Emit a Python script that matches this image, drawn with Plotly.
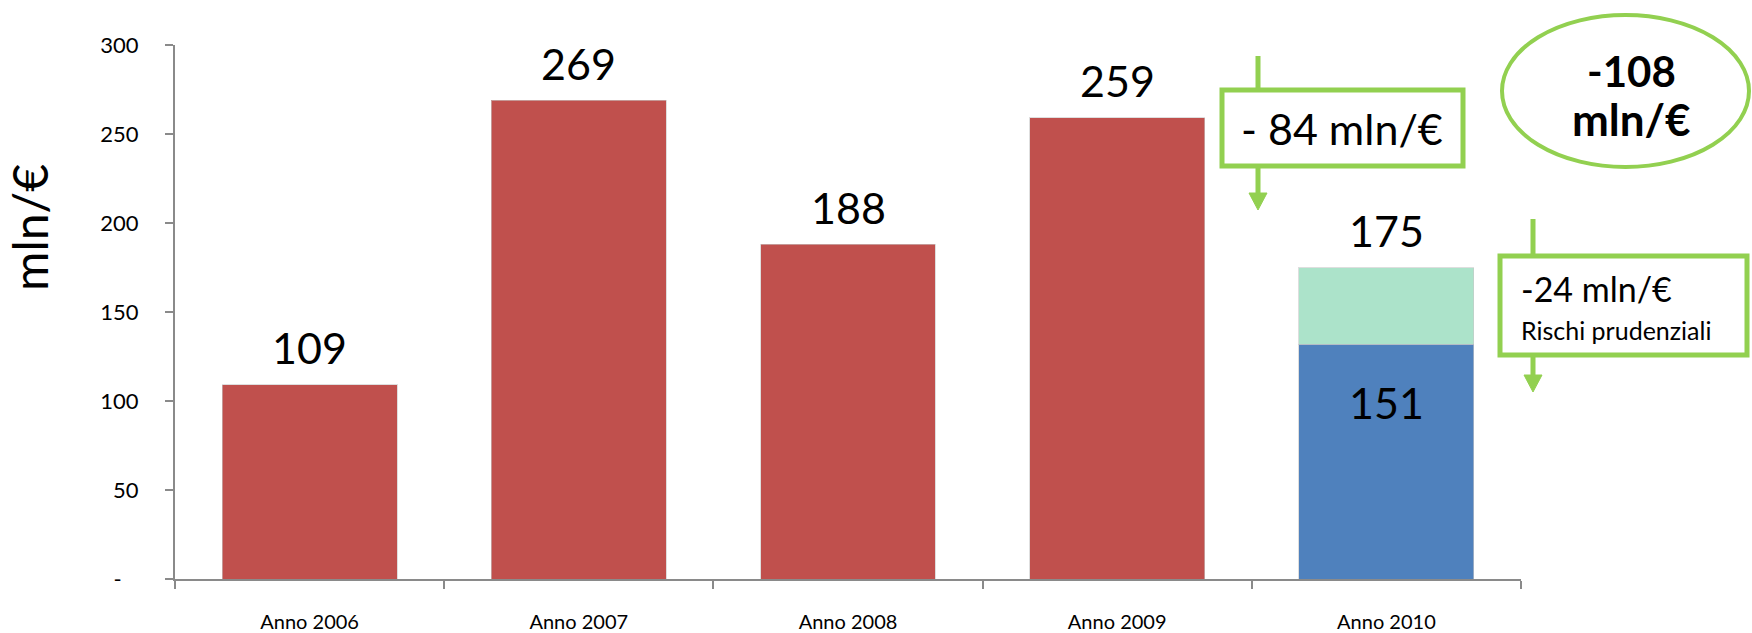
import plotly.graph_objects as go

# ---------------- data ----------------
categories = ["Anno 2006", "Anno 2007", "Anno 2008", "Anno 2009", "Anno 2010"]
red_values = [109, 269, 188, 259, None]          # annual totals 2006-2009
blue_2010 = [None, None, None, None, 132]        # 2010 base segment (as drawn)
mint_2010 = [None, None, None, None, 43]         # 2010 "rischi prudenziali" segment (as drawn)
top_labels = ["109", "269", "188", "259", "175"]
top_values = [109, 269, 188, 259, 175]
inner_label_2010 = "151"
y_tick_vals = [0, 50, 100, 150, 200, 250, 300]
y_tick_text = ["-\u00a0\u00a0\u00a0", "50", "100", "150", "200", "250", "300"]

# ---------------- style ----------------
FONT = "Lato"
RED = "#C0504D"
BLUE = "#4F81BD"
MINT = "#ACE3CA"
GREEN = "#92D050"
AXIS = "#8A8A8A"

W, H = 1752, 633
L, R, T, B = 175, 1521, 45, 579


def px(x):
    return (x - L) / (R - L)


def py(y):
    return (B - y) / (B - T)


fig = go.Figure()
common = dict(width=0.65, marker_line=dict(color="rgba(200,200,200,0.6)", width=1), hoverinfo="skip")
fig.add_bar(x=categories, y=red_values, marker_color=RED, **common)
fig.add_bar(x=categories, y=blue_2010, marker_color=BLUE, **common)
fig.add_bar(x=categories, y=mint_2010, marker_color=MINT, **common)

annotations = []
for c, v, t in zip(categories, top_values, top_labels):
    annotations.append(dict(x=c, y=v, xref="x", yref="y", text=t, showarrow=False,
                            yshift=37, font=dict(family=FONT, size=43, color="black")))
annotations.append(dict(x=categories[4], y=blue_2010[4], xref="x", yref="y", text=inner_label_2010,
                        showarrow=False, yshift=-58, font=dict(family=FONT, size=43, color="black")))

# y-axis title
annotations.append(dict(x=px(30), y=py(228), xref="paper", yref="paper", text="mln/€", textangle=-90,
                        showarrow=False, xanchor="center", yanchor="middle",
                        font=dict(family=FONT, size=48, color="black")))

# box 1 text
annotations.append(dict(x=px(1342), y=py(128), xref="paper", yref="paper", text="- 84 mln/€",
                        showarrow=False, xanchor="center", yanchor="middle",
                        font=dict(family=FONT, size=43, color="black")))
# box 2 texts
annotations.append(dict(x=px(1519), y=py(288), xref="paper", yref="paper", text="-24 mln/€",
                        showarrow=False, xanchor="left", yanchor="middle",
                        font=dict(family=FONT, size=34, color="black")))
annotations.append(dict(x=px(1519), y=py(330), xref="paper", yref="paper", text="Rischi prudenziali",
                        showarrow=False, xanchor="left", yanchor="middle",
                        font=dict(family=FONT, size=25, color="black")))
# ellipse texts
annotations.append(dict(x=px(1631), y=py(71), xref="paper", yref="paper", text="<b>-108</b>",
                        showarrow=False, xanchor="center", yanchor="middle",
                        font=dict(family=FONT, size=42, color="black")))
annotations.append(dict(x=px(1631), y=py(119), xref="paper", yref="paper", text="<b>mln/€</b>",
                        showarrow=False, xanchor="center", yanchor="middle",
                        font=dict(family=FONT, size=44, color="black")))

shapes = []
# arrow 1
shapes.append(dict(type="line", xref="paper", yref="paper", x0=px(1258), x1=px(1258), y0=py(56), y1=py(195),
                   line=dict(color=GREEN, width=5)))
shapes.append(dict(type="path", xref="paper", yref="paper",
                   path=f"M {px(1249)},{py(193)} L {px(1267)},{py(193)} L {px(1258)},{py(210)} Z",
                   fillcolor=GREEN, line=dict(color=GREEN, width=1)))
shapes.append(dict(type="rect", xref="paper", yref="paper", x0=px(1222), x1=px(1463), y0=py(166), y1=py(90),
                   fillcolor="white", line=dict(color=GREEN, width=5)))
# arrow 2
shapes.append(dict(type="line", xref="paper", yref="paper", x0=px(1533), x1=px(1533), y0=py(219), y1=py(377),
                   line=dict(color=GREEN, width=5)))
shapes.append(dict(type="path", xref="paper", yref="paper",
                   path=f"M {px(1524)},{py(375)} L {px(1542)},{py(375)} L {px(1533)},{py(392)} Z",
                   fillcolor=GREEN, line=dict(color=GREEN, width=1)))
shapes.append(dict(type="rect", xref="paper", yref="paper", x0=px(1500), x1=px(1747), y0=py(355), y1=py(256),
                   fillcolor="white", line=dict(color=GREEN, width=5)))
# ellipse
shapes.append(dict(type="circle", xref="paper", yref="paper", x0=px(1502), x1=px(1749), y0=py(167), y1=py(15),
                   fillcolor="white", line=dict(color=GREEN, width=4), layer="below"))

fig.update_layout(
    width=W, height=H,
    margin=dict(l=L, r=W - R, t=T, b=H - B, pad=0, autoexpand=False),
    paper_bgcolor="white", plot_bgcolor="white",
    barmode="stack", bargap=0.35, showlegend=False,
    annotations=annotations, shapes=shapes,
    font=dict(family=FONT, color="black"),
)
fig.update_xaxes(
    range=[-0.5, 4.5], showline=True, linecolor=AXIS, linewidth=2, automargin=False,
    ticks="outside", tickson="boundaries", ticklen=8, tickcolor=AXIS, tickwidth=2,
    tickfont=dict(family=FONT, size=20, color="black"), ticklabelstandoff=24,
    showgrid=False, zeroline=False,
)
fig.update_yaxes(
    range=[0, 300], tickvals=y_tick_vals, ticktext=y_tick_text, automargin=False,
    showline=True, linecolor=AXIS, linewidth=2,
    ticks="outside", ticklen=8, tickcolor=AXIS, tickwidth=2,
    tickfont=dict(family=FONT, size=22, color="black"), ticklabelstandoff=22,
    showgrid=False, zeroline=False,
)

fig.write_html("out.html")
